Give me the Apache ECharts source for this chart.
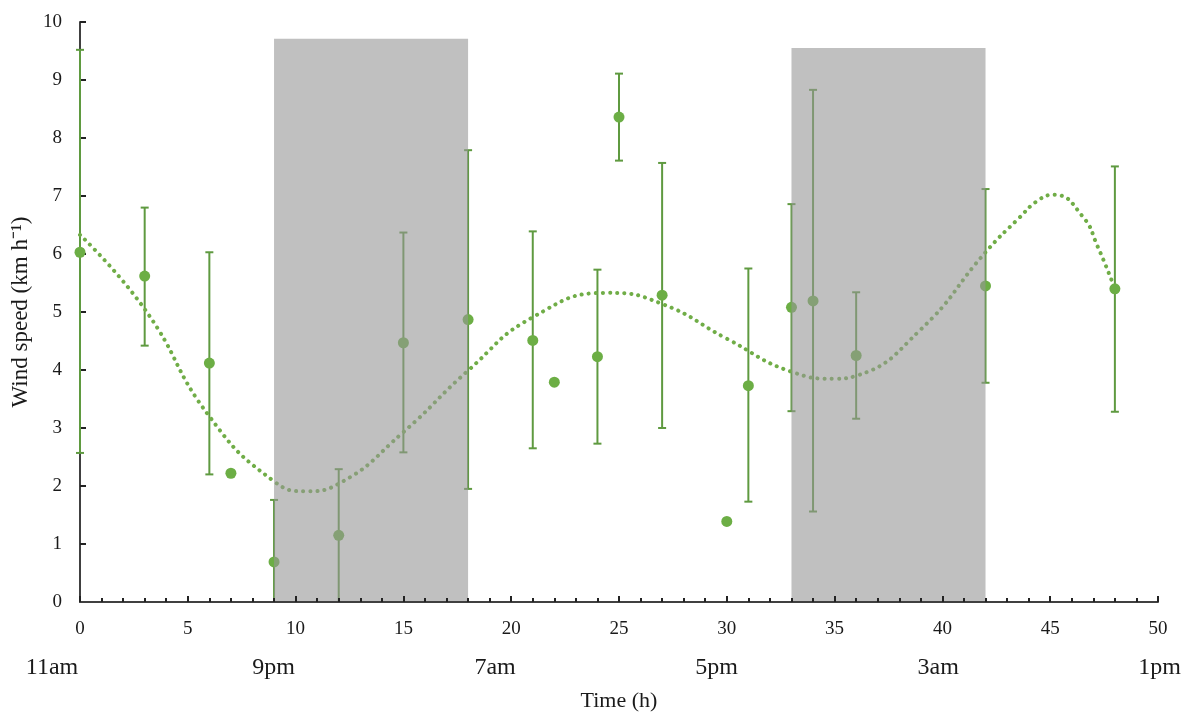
<!DOCTYPE html>
<html>
<head>
<meta charset="utf-8">
<script src="https://cdn.jsdelivr.net/npm/echarts@6/dist/echarts.min.js"></script>
<style>
  html, body { margin: 0; padding: 0; background: #fff; }
  #chart { width: 1184px; height: 717px; }
</style>
</head>
<body>
<div id="chart"></div>
<script>
// measured points
var pointTime  = [0, 3, 6, 7, 9, 12, 15, 18, 21, 22, 24, 25, 27, 30, 31, 33, 34, 36, 42, 48];
var pointSpeed = [6.03, 5.62, 4.12, 2.22, 0.69, 1.15, 4.47, 4.87, 4.51, 3.79, 4.23, 8.36, 5.29, 1.39, 3.73, 5.08, 5.19, 4.25, 5.45, 5.40];

// error bars (low / high)
var errTime = [0, 3, 6, 9, 12, 15, 18, 21, 24, 25, 27, 31, 33, 34, 36, 42, 48];
var errLow  = [2.57, 4.42, 2.20, 0, 0, 2.58, 1.95, 2.65, 2.73, 7.61, 3.00, 1.73, 3.29, 1.56, 3.16, 3.78, 3.28];
var errHigh = [9.52, 6.80, 6.03, 1.76, 2.29, 6.37, 7.79, 6.39, 5.73, 9.11, 7.57, 5.75, 6.86, 8.83, 5.34, 7.12, 7.51];

// trend line
var trendTime  = [0, 3, 6, 9, 10.5, 12, 15, 18, 21, 24.5, 27, 30, 33, 35, 36, 39, 42, 43.5, 44.5, 45.2, 46.5, 47.2, 48];
var trendSpeed = [6.33, 5.05, 3.20, 2.08, 1.91, 2.04, 2.93, 3.99, 4.91, 5.33, 5.14, 4.54, 3.97, 3.85, 3.90, 4.70, 6.03, 6.60, 6.94, 7.02, 6.65, 6.13, 5.40];

// night periods (shaded)
var shadeStart = [9, 33];
var shadeEnd   = [18, 42];
var shadeTop   = [9.71, 9.55];

var clockLabels = ['11am', '9pm', '7am', '5pm', '3am', '1pm'];

var chart = echarts.init(document.getElementById('chart'));

var fontFam = 'Liberation Serif';

var option = {
    animation: false,
    backgroundColor: '#fff',
    grid: [
        {left: 80, right: 26, top: 22, bottom: 113},
        {left: 52, right: 24, top: 22, bottom: 113}
    ],
    xAxis: [{
        type: 'value',
        min: 0, max: 50, interval: 5,
        z: 4,
        name: 'Time (h)',
        nameLocation: 'middle',
        nameGap: 88,
        nameTextStyle: {fontFamily: fontFam, fontSize: 22, color: '#1a1a1a'},
        axisLine: {show: true, lineStyle: {color: '#404040', width: 2}},
        axisTick: {show: true, inside: true, length: 6, lineStyle: {color: '#222', width: 2}},
        minorTick: {show: true, splitNumber: 5, length: 4, lineStyle: {color: '#222', width: 2}},
        axisLabel: {fontFamily: fontFam, fontSize: 19, color: '#1a1a1a', margin: 18},
        splitLine: {show: false}
    }, {
        type: 'value',
        gridIndex: 1,
        min: 0, max: 50, interval: 10,
        axisLine: {show: false},
        axisTick: {show: false},
        splitLine: {show: false},
        axisLabel: {
            fontFamily: fontFam, fontSize: 24, color: '#1a1a1a', margin: 52,
            formatter: function (v) { return clockLabels[Math.round(v / 10)]; }
        }
    }],
    yAxis: [{
        type: 'value',
        min: 0, max: 10, interval: 1,
        name: 'Wind speed (km h⁻¹)',
        nameLocation: 'middle',
        nameGap: 47,
        nameTextStyle: {fontFamily: fontFam, fontSize: 23, color: '#1a1a1a'},
        axisLine: {show: true, lineStyle: {color: '#404040', width: 2}},
        axisTick: {show: true, inside: true, length: 6, lineStyle: {color: '#222', width: 2}},
        axisLabel: {fontFamily: fontFam, fontSize: 19, color: '#1a1a1a', margin: 18},
        splitLine: {show: false}
    }, {
        type: 'value',
        gridIndex: 1,
        min: 0, max: 10,
        show: false
    }],
    series: [
        {
            // dotted trend line
            type: 'line',
            data: trendTime.map(function (t, i) { return [t, trendSpeed[i]]; }),
            smooth: 0.5,
            showSymbol: false,
            z: 2,
            lineStyle: {color: '#70ad47', width: 4, type: [0.1, 7], cap: 'round'}
        },
        {
            // error bars
            type: 'custom',
            z: 2,
            data: errTime.map(function (t, i) { return [t, errLow[i], errHigh[i]]; }),
            renderItem: function (params, api) {
                var lo = api.coord([api.value(0), api.value(1)]);
                var hi = api.coord([api.value(0), api.value(2)]);
                var half = 4;
                var style = {stroke: '#5f9a40', lineWidth: 2};
                return {
                    type: 'group',
                    children: [
                        {type: 'line', shape: {x1: lo[0], y1: lo[1], x2: hi[0], y2: hi[1]}, style: style},
                        {type: 'line', shape: {x1: hi[0] - half, y1: hi[1], x2: hi[0] + half, y2: hi[1]}, style: style},
                        {type: 'line', shape: {x1: lo[0] - half, y1: lo[1], x2: lo[0] + half, y2: lo[1]}, style: style}
                    ]
                };
            }
        },
        {
            type: 'scatter',
            z: 2,
            data: pointTime.map(function (t, i) { return [t, pointSpeed[i]]; }),
            symbolSize: 11,
            itemStyle: {color: '#6cae45', opacity: 1}
        },
        {
            // night shading, semi transparent over the data
            type: 'custom',
            z: 3,
            data: shadeStart.map(function (s, i) { return [s, shadeEnd[i], shadeTop[i]]; }),
            renderItem: function (params, api) {
                var p0 = api.coord([api.value(0), api.value(2)]);
                var p1 = api.coord([api.value(1), 0]);
                return {
                    type: 'rect',
                    shape: {x: p0[0], y: p0[1], width: p1[0] - p0[0], height: p1[1] - p0[1]},
                    style: {fill: 'rgba(150,150,150,0.6)'}
                };
            }
        }
    ]
};

chart.setOption(option);
</script>
</body>
</html>
